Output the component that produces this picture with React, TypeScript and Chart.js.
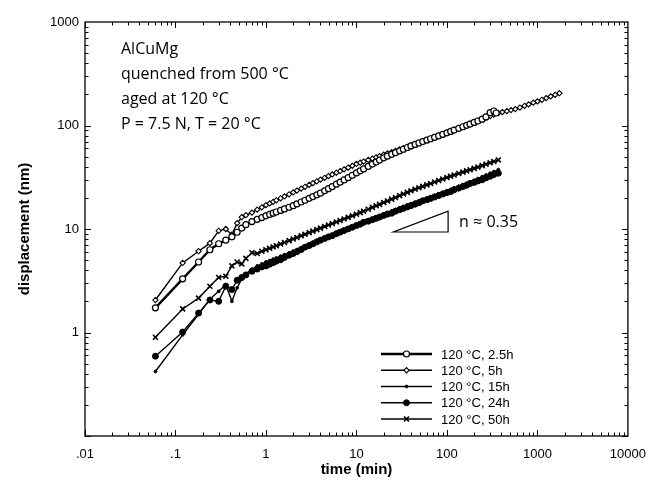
import React, { useEffect, useRef } from 'react';
import { Chart, registerables } from 'chart.js';
import { drawPoint } from 'chart.js/helpers';

Chart.register(...registerables);

// ---------- data ----------
const seriesLabels = ['120 °C, 2.5h', '120 °C, 5h', '120 °C, 15h', '120 °C, 24h', '120 °C, 50h'];

const timeGrid = [0.06, 0.12, 0.18, 0.24, 0.3, 0.36, 0.42, 0.48, 0.54, 0.6, 0.7, 0.8, 0.9,
  1.0, 1.1, 1.2, 1.3, 1.45, 1.6, 1.8, 2.0, 2.2, 2.45, 2.7, 3.0, 3.3, 3.65, 4.0, 4.45, 4.9, 5.4, 6.0, 6.6,
  7.3, 8.1, 9.0, 10, 11, 12, 13.5, 15, 16.5, 18, 20, 22, 24.5, 27, 30, 33, 36.5, 40, 44.5, 49,
  54, 60, 66, 73, 81, 90, 100, 110, 120, 135, 150, 165, 180, 200, 220, 245, 270, 300, 330, 370];

const time2_5h = [0.06, 0.12, 0.18, 0.24, 0.3, 0.36, 0.42, 0.48, 0.54, 0.6, 0.7, 0.8, 0.9,
  1.0, 1.1, 1.2, 1.3, 1.45, 1.6, 1.8, 2.0, 2.2, 2.45, 2.7, 3.0, 3.3, 3.65, 4.0, 4.45, 4.9, 5.4, 6.0, 6.6,
  7.3, 8.1, 9.0, 10, 11, 12, 13.5, 15, 16.5, 18, 20, 22, 24.5, 27, 30, 33, 36.5, 40, 44.5, 49,
  54, 60, 66, 73, 81, 90, 100, 110, 120, 135, 150, 165, 180, 200, 220, 245, 270, 300, 330, 350];
const disp2_5h = [1.73, 3.3, 4.8, 6.3, 7.2, 7.8, 8.4, 9.3, 10.2, 11.0, 11.8, 12.4, 12.9,
  13.4, 13.82, 14.22, 14.59, 15.13, 15.63, 16.23, 16.8, 17.45, 18.23, 18.96, 19.78, 20.55, 21.4, 22.2, 23.39, 24.53, 25.7, 27.08, 28.37,
  29.81, 31.36, 33.03, 34.8, 36.45, 38.02, 40.26, 42.36, 44.36, 46.29, 48.7, 50.51, 52.64, 54.63, 56.89, 58.98, 61.31, 63.5, 65.65, 67.74,
  69.86, 72.24, 74.47, 76.89, 79.46, 82.17, 85, 87.72, 90.3, 93.93, 97.27, 100.4, 103.3, 107, 110.5, 115, 121, 133, 138, 132];

const time5h = [0.06, 0.12, 0.18, 0.24, 0.3, 0.36, 0.42, 0.48, 0.54, 0.6, 0.7, 0.8, 0.9,
  1.0, 1.1, 1.2, 1.3, 1.45, 1.6, 1.8, 2.0, 2.2, 2.45, 2.7, 3.0, 3.3, 3.65, 4.0, 4.45, 4.9, 5.4, 6.0, 6.6,
  7.3, 8.1, 9.0, 10, 11, 12, 13.5, 15, 16.5, 18, 20, 22, 24.5, 27, 30, 33, 36.5, 40, 44.5, 49,
  54, 60, 66, 73, 81, 90, 100, 110, 120, 135, 150, 165, 180, 200, 220, 245, 270, 300, 330, 370,
  410, 460, 510, 570, 640, 720, 800, 900, 1000, 1120, 1250, 1400, 1570, 1750];
const disp5h = [2.06, 4.7, 6.1, 7.3, 9.6, 10.0, 8.8, 11.4, 13.0, 13.6, 14.4, 15.4, 16.2,
  17.0, 17.68, 18.32, 18.93, 19.81, 20.62, 21.64, 22.6, 23.5, 24.56, 25.55, 26.67, 27.73, 28.9, 30.0, 31.24, 32.41, 33.62, 34.99, 36.3,
  37.71, 39.21, 40.83, 42.5, 43.72, 44.87, 46.46, 47.95, 49.31, 50.6, 52.2, 53.66, 55.36, 56.95, 58.73, 60.35, 62.17, 63.8, 65.96, 67.99,
  70.08, 72.42, 74.64, 77.03, 79.55, 82.26, 85, 87.84, 90.52, 94.27, 97.73, 101.0, 104.1, 108, 111.4, 115.4, 119.1, 123.2, 127.1, 132,
  135, 138, 141, 144, 149, 155, 160, 166, 171, 177, 184, 191, 198, 205];

const disp15h = [0.42, 0.95, 1.5, 2.1, 2.5, 2.9, 2.0, 2.7, 3.3, 3.7, 4.1, 4.4, 4.6,
  4.8, 4.96, 5.11, 5.25, 5.46, 5.65, 5.88, 6.1, 6.33, 6.6, 6.86, 7.14, 7.42, 7.71, 8.0, 8.31, 8.6, 8.9, 9.25, 9.57,
  9.92, 10.29, 10.69, 11.1, 11.46, 11.8, 12.28, 12.72, 13.13, 13.52, 14.0, 14.45, 14.97, 15.45, 16.01, 16.52, 17.08, 17.6, 18.19, 18.75,
  19.33, 19.97, 20.57, 21.22, 21.92, 22.65, 23.4, 24.17, 24.9, 25.91, 26.85, 27.72, 28.55, 29.6, 30.71, 32.0, 33.21, 34.61, 35.9, 37.5];

const disp24h = [0.59, 1.01, 1.54, 2.06, 2.0, 2.8, 2.6, 3.2, 3.4, 3.6, 3.9, 4.1, 4.3,
  4.4, 4.57, 4.73, 4.89, 5.05, 5.31, 5.57, 5.8, 6.04, 6.33, 6.68, 6.91, 7.19, 7.51, 7.8, 8.1, 8.39, 8.6, 9.01, 9.32,
  9.66, 10.02, 10.4, 10.8, 11.13, 11.6, 11.89, 12.3, 12.68, 13.03, 13.5, 13.92, 14.2, 14.84, 15.35, 15.82, 16.33, 16.8, 17.38, 17.93,
  18.7, 19.14, 19.73, 20.36, 21.05, 21.77, 22.5, 23.0, 23.88, 24.82, 25.68, 26.48, 27.5, 28.2, 29.11, 29.9, 31.16, 32.29, 33.6, 34.6];

const disp50h = [0.9, 1.69, 2.15, 2.8, 3.4, 3.5, 4.4, 4.8, 4.6, 5.2, 5.9, 5.8, 6.1,
  6.3, 6.51, 6.71, 6.9, 7.16, 7.41, 7.72, 8.0, 8.27, 8.59, 8.89, 9.22, 9.53, 9.87, 10.2, 10.57, 10.92, 11.29, 11.7, 12.09,
  12.51, 12.94, 13.41, 13.9, 14.4, 14.87, 15.54, 16.17, 16.75, 17.31, 18.0, 18.66, 19.44, 20.16, 20.99, 21.75, 22.59, 23.4, 24.22, 24.99,
  25.79, 26.68, 27.52, 28.43, 29.41, 30.42, 31.5, 32.38, 33.21, 34.36, 35.44, 36.42, 37.35, 38.5, 39.64, 40.96, 42.2, 43.62, 44.9, 46.5];

const xTickValues = [0.01, 0.1, 1, 10, 100, 1000, 10000];
const xTickLabels = ['.01', '.1', '1', '10', '100', '1000', '10000'];
const yTickValues = [0.1, 1, 10, 100, 1000];
const yTickLabels = ['', '1', '10', '100', '1000'];

const noteLines = ['AlCuMg', 'quenched from 500 °C', 'aged at 120 °C', 'P = 7.5 N, T = 20 °C'];
const slopeTriX = [25.6, 103];
const slopeTriY = [9.35, 14.9];
const slopeLabel = 'n ≈ 0.35';

const xTitle = 'time (min)';
const yTitle = 'displacement (nm)';

// ---------- helpers ----------
const toPoints = (xs: number[], ys: number[]) => xs.map((x, i) => ({ x, y: ys[i] }));

const LABEL_FONT = '"Liberation Sans", Arial, sans-serif';
const NOTE_FONT = '"Open Sans", "DejaVu Sans", sans-serif';

const framePlugin = {
  id: 'frameTicks',
  afterDraw(chart: any) {
    const { ctx, chartArea: a } = chart;
    const xs = chart.scales.x;
    const ys = chart.scales.y;
    ctx.save();
    ctx.strokeStyle = '#000';
    ctx.lineWidth = 1.3;
    ctx.strokeRect(a.left, a.top, a.right - a.left, a.bottom - a.top);
    ctx.lineWidth = 1;
    ctx.beginPath();
    for (let d = -2; d <= 3; d++) {
      for (let k = 1; k <= 9; k++) {
        const v = k * Math.pow(10, d);
        const px = Math.round(xs.getPixelForValue(v)) + 0.5;
        const len = k === 1 ? 6 : 3.5;
        ctx.moveTo(px, a.bottom);
        ctx.lineTo(px, a.bottom - len);
        ctx.moveTo(px, a.top);
        ctx.lineTo(px, a.top + len);
      }
    }
    for (let d = -1; d <= 2; d++) {
      for (let k = 1; k <= 9; k++) {
        const v = k * Math.pow(10, d);
        const py = Math.round(ys.getPixelForValue(v)) + 0.5;
        const len = k === 1 ? 6 : 3.5;
        ctx.moveTo(a.left, py);
        ctx.lineTo(a.left + len, py);
        ctx.moveTo(a.right, py);
        ctx.lineTo(a.right - len, py);
      }
    }
    ctx.stroke();

    // notes
    ctx.fillStyle = '#000';
    ctx.font = `16px ${NOTE_FONT}`;
    ctx.textAlign = 'left';
    ctx.textBaseline = 'middle';
    noteLines.forEach((t, i) => {
      ctx.fillText(t, a.left + 36, a.top + 27 + i * 25);
    });

    // slope triangle
    const x0 = xs.getPixelForValue(slopeTriX[0]);
    const x1 = xs.getPixelForValue(slopeTriX[1]);
    const y0 = ys.getPixelForValue(slopeTriY[0]);
    const y1 = ys.getPixelForValue(slopeTriY[1]);
    ctx.lineWidth = 1.2;
    ctx.beginPath();
    ctx.moveTo(x0, y0);
    ctx.lineTo(x1, y0);
    ctx.lineTo(x1, y1);
    ctx.closePath();
    ctx.stroke();
    ctx.font = `16px ${NOTE_FONT}`;
    ctx.fillText(slopeLabel, x1 + 11, (y0 + y1) / 2 + 1);

    // legend
    const lx0 = 381, lx1 = 432, ltx = 441;
    const rowY0 = 354, rowStep = 16.25;
    ctx.font = `13px ${LABEL_FONT}`;
    chart.data.datasets.forEach((ds: any, i: number) => {
      const y = rowY0 + i * rowStep;
      ctx.strokeStyle = '#000';
      ctx.lineWidth = ds.borderWidth;
      ctx.beginPath();
      ctx.moveTo(lx0, y);
      ctx.lineTo(lx1, y);
      ctx.stroke();
      ctx.fillStyle = ds.pointBackgroundColor;
      ctx.strokeStyle = '#000';
      ctx.lineWidth = ds.pointBorderWidth;
      drawPoint(ctx, { pointStyle: ds.pointStyle, radius: ds.pointRadius, rotation: 0, borderWidth: ds.pointBorderWidth }, (lx0 + lx1) / 2, y);
      ctx.fillStyle = '#000';
      ctx.fillText(ds.label, ltx, y + 1);
    });
    ctx.restore();
  },
};

export default function App() {
  const ref = useRef<HTMLCanvasElement | null>(null);

  useEffect(() => {
    if (!ref.current) return;
    const base = {
      borderColor: '#000',
      pointBorderColor: '#000',
      showLine: true,
      tension: 0,
      fill: false,
    };
    const chart = new Chart(ref.current, {
      type: 'scatter',
      data: {
        datasets: [
          { ...base, label: seriesLabels[0], data: toPoints(time2_5h, disp2_5h), borderWidth: 2.4, pointStyle: 'circle', pointRadius: 3, pointBorderWidth: 1.2, pointBackgroundColor: '#fff' },
          { ...base, label: seriesLabels[1], data: toPoints(time5h, disp5h), borderWidth: 1.4, pointStyle: 'rectRot', pointRadius: 2.6, pointBorderWidth: 1.1, pointBackgroundColor: '#fff' },
          { ...base, label: seriesLabels[2], data: toPoints(timeGrid, disp15h), borderWidth: 1.4, pointStyle: 'circle', pointRadius: 1.4, pointBorderWidth: 1, pointBackgroundColor: '#000' },
          { ...base, label: seriesLabels[3], data: toPoints(timeGrid, disp24h), borderWidth: 1.4, pointStyle: 'circle', pointRadius: 3, pointBorderWidth: 1, pointBackgroundColor: '#000' },
          { ...base, label: seriesLabels[4], data: toPoints(timeGrid, disp50h), borderWidth: 1.4, pointStyle: 'crossRot', pointRadius: 3.5, pointBorderWidth: 1.6, pointBackgroundColor: '#000' },
        ] as any,
      },
      options: {
        responsive: false,
        animation: false,
        events: [],
        layout: { padding: { left: 0, top: 22, right: 28, bottom: 0 } },
        plugins: { legend: { display: false }, tooltip: { enabled: false } },
        scales: {
          x: {
            type: 'logarithmic',
            min: 0.01,
            max: 10000,
            grid: { display: false, drawTicks: false },
            border: { display: false },
            afterBuildTicks: (s: any) => { s.ticks = xTickValues.map((v) => ({ value: v })); },
            afterFit: (s: any) => { s.height = 47; },
            ticks: {
              autoSkip: false,
              maxRotation: 0,
              padding: 11,
              color: '#000',
              font: { family: LABEL_FONT, size: 13 },
              callback: (v: any) => {
                const i = xTickValues.findIndex((t) => Math.abs(t - Number(v)) / t < 1e-6);
                return i >= 0 ? xTickLabels[i] : '';
              },
            },
            title: { display: true, text: xTitle, color: '#000', font: { family: LABEL_FONT, size: 15, weight: 'bold' }, padding: { top: 0, bottom: 4 } },
          },
          y: {
            type: 'logarithmic',
            min: 0.1,
            max: 1000,
            grid: { display: false, drawTicks: false },
            border: { display: false },
            afterBuildTicks: (s: any) => { s.ticks = yTickValues.map((v) => ({ value: v })); },
            afterFit: (s: any) => { s.width = 85; },
            ticks: {
              autoSkip: false,
              padding: 6,
              color: '#000',
              font: { family: LABEL_FONT, size: 13 },
              callback: (v: any) => {
                const i = yTickValues.findIndex((t) => Math.abs(t - Number(v)) / t < 1e-6);
                return i >= 0 ? yTickLabels[i] : '';
              },
            },
            title: { display: true, text: yTitle, color: '#000', font: { family: LABEL_FONT, size: 15, weight: 'bold' }, padding: { top: 16, bottom: 0 } },
          },
        },
      } as any,
      plugins: [framePlugin],
    });
    return () => chart.destroy();
  }, []);

  return (
    <div style={{ position: 'fixed', left: 0, top: 0, width: 657, height: 483, background: '#fff' }}>
      <canvas ref={ref} width={657} height={483} style={{ width: 657, height: 483, display: 'block' }} />
    </div>
  );
}
